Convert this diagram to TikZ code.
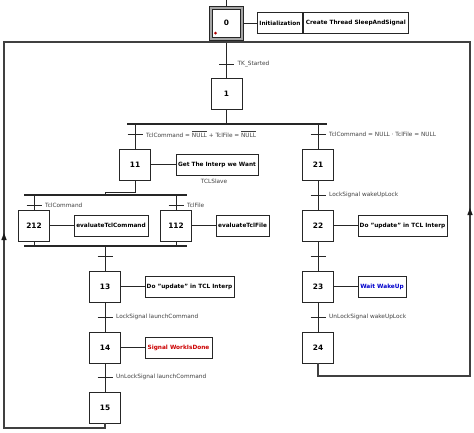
\documentclass[tikz,border=0pt]{standalone}
\usepackage{fontspec}
\setmainfont{DejaVu Sans}
\usetikzlibrary{arrows.meta}
\newcommand\grtrans[3]{%
  \coordinate (#1) at #2;
  \draw[line] ([xshift=-7.5pt]#1) -- ([xshift=7.5pt]#1);
  \node[trlabel] at ([xshift=11pt]#1) {#3};}
\begin{document}
\begin{tikzpicture}[x=1pt,y=-1pt,
  line/.style={draw=black!85, line width=0.9pt},
  loopline/.style={draw=black!75, line width=1.1pt},
  stepbox/.style={draw=black!85, line width=0.9pt, minimum width=31pt, minimum height=31pt, inner sep=0pt, font=\fontsize{7.4}{8}\selectfont\bfseries, fill=white},
  actbox/.style={draw=black!85, line width=0.9pt, minimum height=21pt, inner sep=0.5pt, font=\fontsize{5.8}{6}\selectfont\bfseries, fill=white},
  trlabel/.style={anchor=west, font=\fontsize{5.8}{6}\selectfont, text=black!75, inner sep=0pt},
  bar/.style={draw=black!85, line width=2.3pt},
  uptip/.style={fill=black!90},
]
\useasboundingbox (0,0) rectangle (474,432);

% coordinates
\coordinate (top) at (226.5,0);
\coordinate (b1L) at (127,124); \coordinate (b1R) at (327,124);
\coordinate (b2L) at (24,195);  \coordinate (b2R) at (187,195);
\coordinate (b3L) at (24,246);  \coordinate (b3R) at (187,246);
\coordinate (topL) at (4,42);   \coordinate (topR) at (470,42);
\coordinate (join) at (226.5,42);

% steps
\node[draw=black!85, line width=0.9pt, fill=black!35, minimum size=34pt, inner sep=0pt] (s0) at (226.5,23) {};
\node[stepbox, minimum width=28pt, minimum height=28pt] (s0i) at (s0) {0};
\fill[red!70!black] (215.5,33) circle (1.5pt);
\node[stepbox] (s1) at (226.5,93.5) {1};
\node[stepbox] (s11) at (135,164.5) {11};
\node[stepbox] (s21) at (318,164.5) {21};
\node[stepbox] (s212) at (34,225.5) {212};
\node[stepbox] (s112) at (176,225.5) {112};
\node[stepbox] (s22) at (318,225.5) {22};
\node[stepbox] (s13) at (105,286.5) {13};
\node[stepbox] (s23) at (318,286.5) {23};
\node[stepbox] (s14) at (105,347.5) {14};
\node[stepbox] (s24) at (318,347.5) {24};
\node[stepbox] (s15) at (105,407.5) {15};

% actions
\node[actbox, anchor=west, minimum width=45pt] (a0a) at (257,23) {Initialization};
\node[actbox, anchor=west, minimum width=105pt] (a0b) at (a0a.east) {Create Thread SleepAndSignal};
\node[actbox, minimum width=82pt] (a11) at (217,164.5) {Get The Interp we Want};
\node[trlabel, anchor=center] (tcl) at (214,181.5) {TCLSlave};
\node[actbox, minimum width=74pt] (a212) at (111,225.5) {evaluateTclCommand};
\node[actbox, minimum width=53pt] (a112) at (242.5,225.5) {evaluateTclFile};
\node[actbox, minimum width=89pt] (a22) at (402.5,225.5) {Do "update" in TCL Interp};
\node[actbox, minimum width=89pt] (a13) at (189.5,286.5) {Do "update" in TCL Interp};
\node[actbox, minimum width=48pt, text=blue!80!black] (a23) at (382,286.5) {Wait WakeUp};
\node[actbox, minimum width=67pt, text=red!80!black] (a14) at (178.5,347.5) {Signal WorkIsDone};

% action links
\draw[line] (s0.east) -- (a0a.west);
\draw[line] (s11.east) -- (a11.west);
\draw[line] (s212.east) -- (a212.west);
\draw[line] (s112.east) -- (a112.west);
\draw[line] (s22.east) -- (a22.west);
\draw[line] (s13.east) -- (a13.west);
\draw[line] (s23.east) -- (a23.west);
\draw[line] (s14.east) -- (a14.west);

% bars
\draw[bar] (b1L) -- (b1R);
\draw[bar] (b2L) -- (b2R);
\draw[bar] (b3L) -- (b3R);

% main flow
\draw[line] (top) -- (s0.north);
\draw[line] (s0.south) -- (s1.north);
\grtrans{t01}{(226.5,64)}{TK\_Started}
\draw[line] (s1.south) -- (s1.south |- b1L);
\draw[line] (s11.north |- b1L) -- (s11.north);
\grtrans{t11}{(135,134)}{TclCommand = $\overline{\mbox{NULL}}$ + TclFile = $\overline{\mbox{NULL}}$}
\draw[line] (s21.north |- b1L) -- (s21.north);
\grtrans{t21}{(318,134)}{TclCommand = NULL · TclFile = NULL}
\draw[line] (s11.south) -- ++(0,12) -| (s13.north |- b2L);
\draw[line] (s212.north |- b2L) -- (s212.north);
\grtrans{t212}{(34,205)}{TclCommand}
\draw[line] (s112.north |- b2L) -- (s112.north);
\grtrans{t112}{(176,205)}{TclFile}
\draw[line] (s212.south) -- (s212.south |- b3L);
\draw[line] (s112.south) -- (s112.south |- b3L);
\draw[line] (s13.north |- b3L) -- (s13.north);
\grtrans{t13}{(105,256)}{}
\draw[line] (s13.south) -- (s14.north);
\grtrans{t14}{(105,317)}{LockSignal launchCommand}
\draw[line] (s14.south) -- (s15.north);
\grtrans{t15}{(105,377)}{UnLockSignal launchCommand}
\draw[line] (s21.south) -- (s22.north);
\grtrans{t22}{(318,195)}{LockSignal wakeUpLock}
\draw[line] (s22.south) -- (s23.north);
\grtrans{t23}{(318,256)}{}
\draw[line] (s23.south) -- (s24.north);
\grtrans{t24}{(318,317)}{UnLockSignal wakeUpLock}

% loops
\draw[loopline] (s15.south) -- (s15.south |- 0,428) -| (topL) -- (join);
\draw[loopline] (s24.south) -- (s24.south |- 0,376) -| (topR) -- (join);
\fill[uptip] (4,233) -- (1.3,240) -- (6.7,240) -- cycle;
\fill[uptip] (470,208) -- (467.3,215) -- (472.7,215) -- cycle;
\end{tikzpicture}
\end{document}
